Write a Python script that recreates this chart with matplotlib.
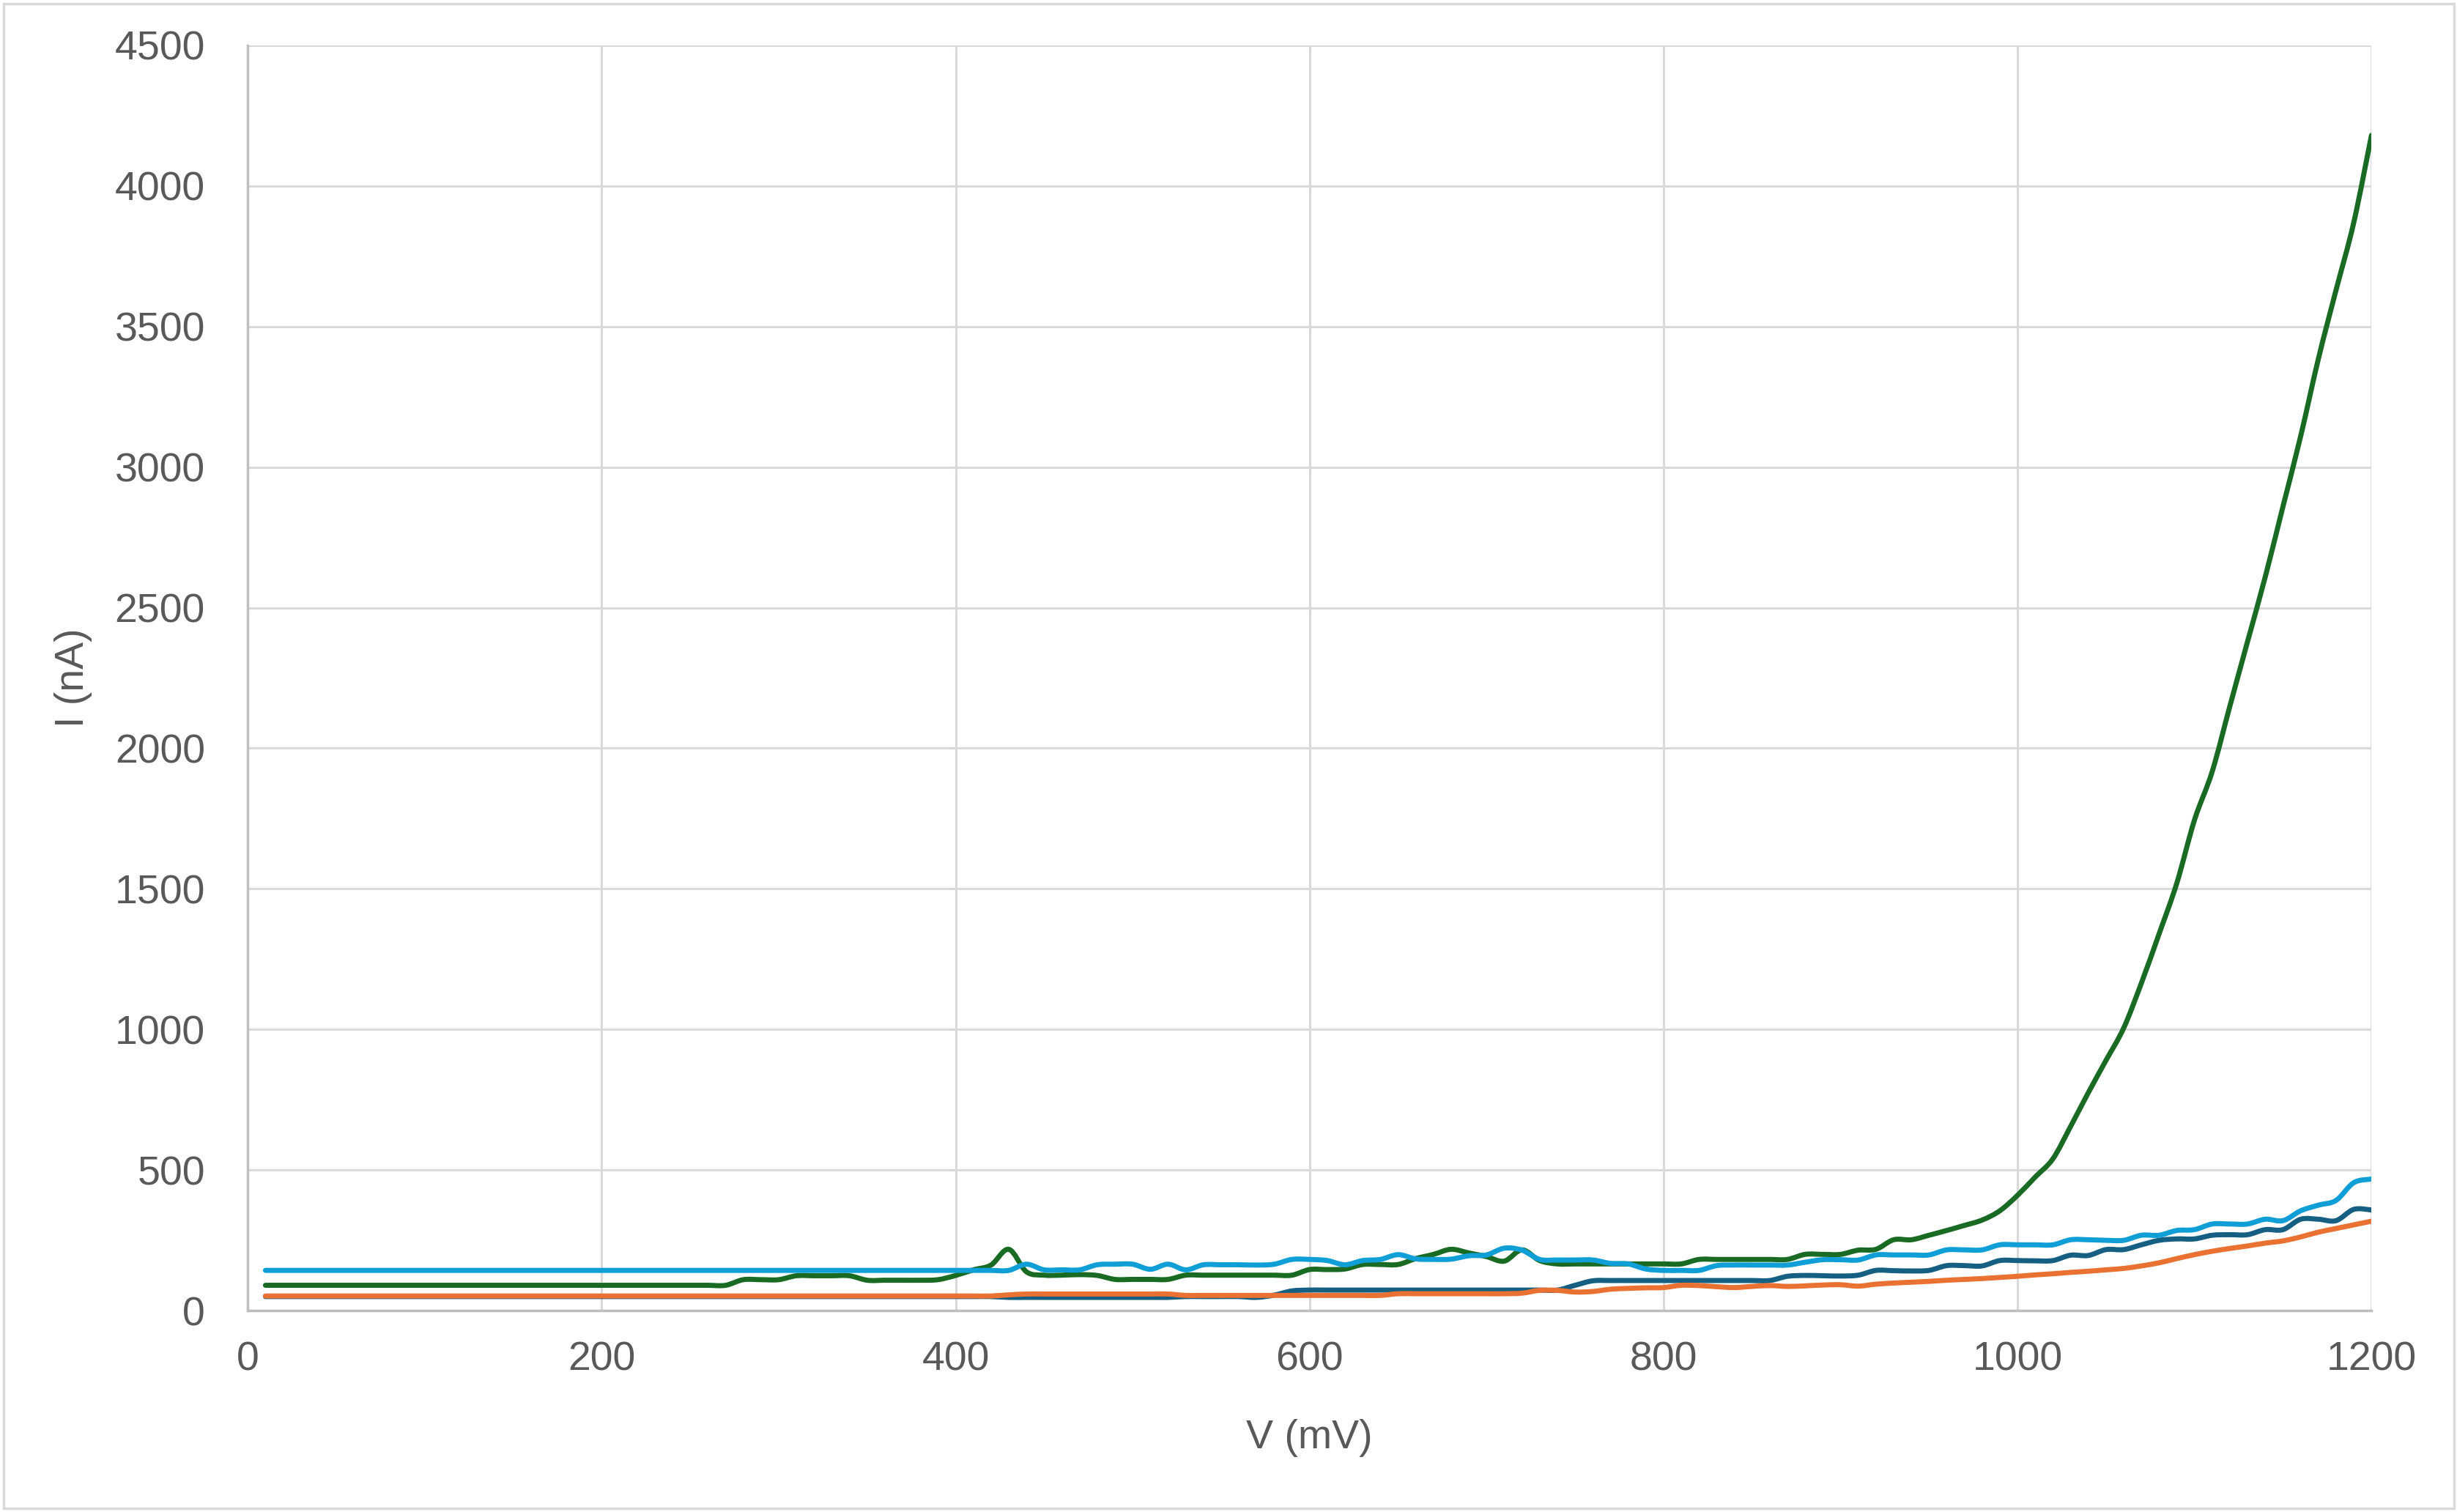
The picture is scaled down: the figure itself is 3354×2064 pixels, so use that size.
import numpy as np
import matplotlib.pyplot as plt
from matplotlib.patches import Rectangle, PathPatch
from matplotlib.path import Path

plt.rcParams['font.family'] = ['Liberation Sans', 'DejaVu Sans']

# 扫描电压 (mV)
voltage = [
    10, 20, 30, 40, 50, 60, 70, 80, 90, 100,
    110, 120, 130, 140, 150, 160, 170, 180, 190, 200,
    210, 220, 230, 240, 250, 260, 270, 280, 290, 300,
    310, 320, 330, 340, 350, 360, 370, 380, 390, 400,
    410, 420, 430, 440, 450, 460, 470, 480, 490, 500,
    510, 520, 530, 540, 550, 560, 570, 580, 590, 600,
    610, 620, 630, 640, 650, 660, 670, 680, 690, 700,
    710, 720, 730, 740, 750, 760, 770, 780, 790, 800,
    810, 820, 830, 840, 850, 860, 870, 880, 890, 900,
    910, 920, 930, 940, 950, 960, 970, 980, 990, 1000,
    1010, 1020, 1030, 1040, 1050, 1060, 1070, 1080, 1090, 1100,
    1110, 1120, 1130, 1140, 1150, 1160, 1170, 1180, 1190, 1200,
]

# 电流 (nA)，四条曲线
current_darkblue = [
    50, 50, 50, 50, 50, 50, 50, 50, 50, 50,
    50, 50, 50, 50, 50, 50, 50, 50, 50, 50,
    50, 50, 50, 50, 50, 50, 50, 50, 50, 50,
    50, 50, 50, 50, 50, 50, 50, 50, 50, 50,
    50, 50, 47, 47, 47, 47, 47, 47, 47, 47,
    47, 47, 50, 50, 50, 50, 47, 55, 70, 73,
    73, 73, 73, 73, 73, 73, 73, 73, 73, 73,
    73, 73, 73, 73, 90, 106, 107, 107, 107, 107,
    107, 107, 107, 107, 107, 107, 122, 125, 124, 123,
    126, 143, 142, 141, 143, 160, 160, 159, 178, 178,
    177, 178, 197, 196, 217, 217, 234, 250, 255, 255,
    268, 270, 270, 288, 288, 325, 325, 320, 360, 358,
]

current_orange = [
    52, 52, 52, 52, 52, 52, 52, 52, 52, 52,
    52, 52, 52, 52, 52, 52, 52, 52, 52, 52,
    52, 52, 52, 52, 52, 52, 52, 52, 52, 52,
    52, 52, 52, 52, 52, 52, 52, 52, 52, 52,
    52, 52, 56, 59, 59, 59, 59, 59, 59, 59,
    59, 59, 54, 54, 54, 54, 54, 54, 54, 54,
    54, 54, 54, 54, 60, 60, 60, 60, 60, 60,
    60, 62, 72, 72, 66, 68, 76, 79, 81, 82,
    90, 89, 85, 82, 86, 89, 86, 88, 91, 92,
    87, 94, 98, 101, 104, 108, 111, 114, 118, 122,
    127, 131, 136, 140, 145, 150, 159, 170, 185, 199,
    211, 221, 230, 240, 248, 262, 279, 292, 305, 318,
]

current_green = [
    90, 90, 90, 90, 90, 90, 90, 90, 90, 90,
    90, 90, 90, 90, 90, 90, 90, 90, 90, 90,
    90, 90, 90, 90, 90, 90, 90, 110, 110, 110,
    124, 124, 124, 124, 108, 108, 108, 108, 110, 125,
    145, 162, 218, 138, 126, 126, 128, 125, 111, 111,
    111, 111, 126, 126, 126, 126, 126, 126, 126, 146,
    146, 148, 164, 164, 164, 185, 200, 218, 205, 192,
    176, 216, 178, 166, 166, 166, 166, 166, 166, 166,
    166, 182, 182, 182, 182, 182, 182, 200, 200, 200,
    215, 218, 252, 252, 268, 285, 303, 322, 355, 410,
    475, 540, 655, 775, 890, 1005, 1165, 1340, 1520, 1745,
    1917, 2150, 2380, 2610, 2860, 3110, 3385, 3630, 3870, 4180,
]

current_lightblue = [
    143, 143, 143, 143, 143, 143, 143, 143, 143, 143,
    143, 143, 143, 143, 143, 143, 143, 143, 143, 143,
    143, 143, 143, 143, 143, 143, 143, 143, 143, 143,
    143, 143, 143, 143, 143, 143, 143, 143, 143, 143,
    143, 143, 143, 165, 145, 145, 145, 163, 165, 165,
    147, 165, 145, 163, 163, 163, 162, 165, 182, 182,
    178, 163, 178, 182, 199, 184, 182, 183, 195, 198,
    222, 215, 182, 180, 180, 180, 168, 166, 148, 143,
    143, 143, 160, 162, 162, 162, 162, 172, 181, 181,
    180, 198, 198, 198, 198, 216, 216, 216, 234, 234,
    234, 234, 252, 252, 250, 250, 268, 268, 285, 288,
    308, 308, 308, 325, 320, 355, 375, 392, 455, 468,
]

series = [
    (current_darkblue, '#156082'),
    (current_orange, '#E97132'),
    (current_green, '#196B24'),
    (current_lightblue, '#0F9ED5'),
]


def smooth_path(x, y):
    # 平滑折线（类似 Excel 的平滑线），三次贝塞尔曲线
    x = np.asarray(x, float)
    y = np.asarray(y, float)
    xp = np.concatenate([[x[0]], x, [x[-1]]])
    yp = np.concatenate([[y[0]], y, [y[-1]]])
    verts = [(x[0], y[0])]
    codes = [Path.MOVETO]
    for i in range(1, len(x)):
        p0 = np.array([xp[i - 1], yp[i - 1]])
        p1 = np.array([xp[i], yp[i]])
        p2 = np.array([xp[i + 1], yp[i + 1]])
        p3 = np.array([xp[i + 2], yp[i + 2]])
        c1 = p1 + (p2 - p0) / 6
        c2 = p2 - (p3 - p1) / 6
        verts += [tuple(c1), tuple(c2), tuple(p2)]
        codes += [Path.CURVE4] * 3
    return Path(verts, codes)


fig = plt.figure(figsize=(33.55, 20.64), dpi=100)
ax = fig.add_axes([0.1008, 0.1332, 0.8641, 0.8368])

for values, color in series:
    ax.add_patch(PathPatch(smooth_path(voltage, values), fill=False, edgecolor=color,
                           lw=5, capstyle='round', joinstyle='round'))

ax.set_xlim(0, 1200)
ax.set_ylim(0, 4500)
ax.set_xticks(np.arange(0, 1201, 200))
ax.set_yticks(np.arange(0, 4501, 500))
ax.grid(True, color='#D9D9D9', lw=2.2)
ax.set_axisbelow(True)

for side in ['top', 'right']:
    ax.spines[side].set_visible(False)
for side in ['left', 'bottom']:
    ax.spines[side].set_color('#BFBFBF')
    ax.spines[side].set_linewidth(2.5)

ax.tick_params(length=0, labelsize=40, labelcolor='#595959')
ax.tick_params(axis='y', pad=42)
ax.tick_params(axis='x', pad=30)

ax.set_xlabel('V (mV)', fontsize=40, color='#595959', labelpad=39)
ax.set_ylabel('I (nA)', fontsize=40, color='#595959', labelpad=22)

# 图表外框
fig.patches.append(Rectangle((0.0015, 0.0025), 0.997, 0.995, transform=fig.transFigure,
                             fill=False, edgecolor='#D9D9D9', lw=2.5))

fig.savefig('out.png', dpi=100)
